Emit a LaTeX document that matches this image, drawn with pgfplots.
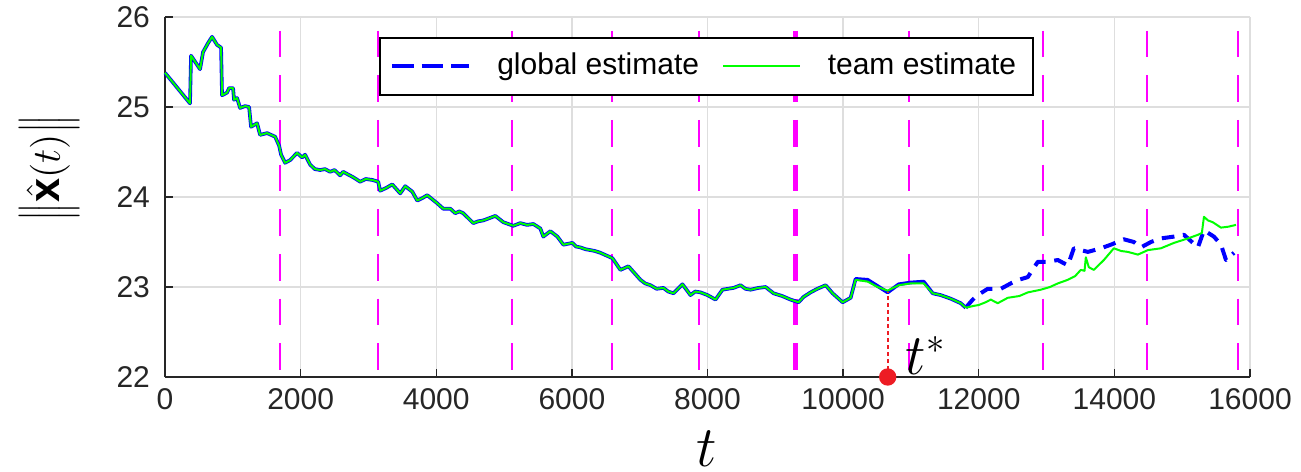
\documentclass[border=0pt]{standalone}
\usepackage{fontspec}
\setmainfont{Liberation Sans}
\usepackage{pgfplots}
\pgfplotsset{compat=1.18}
\usepackage{pgfplotstable}

\definecolor{tickgray}{rgb}{0.15,0.15,0.15}
\definecolor{gridgray}{rgb}{0.87,0.87,0.87}
\definecolor{mag}{rgb}{1,0,1}
\definecolor{mblue}{rgb}{0,0,1}
\definecolor{mgreen}{rgb}{0,1,0}
\definecolor{mred}{rgb}{0.93,0.11,0.14}

\pgfplotstableread{
x y
0 25.38
120 25.27
369 25.04
384 25.57
517 25.42
561 25.61
635 25.71
694 25.78
768 25.69
827 25.66
841 25.13
915 25.16
945 25.21
1004 25.21
1018 25.08
1063 25.10
1107 24.99
1181 25.01
1240 25.00
1269 24.78
1358 24.82
1402 24.69
1506 24.71
1624 24.67
1683 24.57
1712 24.47
1771 24.38
1845 24.41
1948 24.49
2022 24.44
2066 24.47
2140 24.36
2210 24.31
2288 24.30
2360 24.31
2435 24.28
2500 24.30
2583 24.24
2627 24.28
2700 24.25
2775 24.22
2878 24.17
2960 24.20
3055 24.19
3144 24.17
3173 24.07
3260 24.10
3351 24.14
3469 24.04
3542 24.12
3646 24.06
3720 23.96
3800 23.99
3867 24.02
4015 23.93
4103 23.87
4207 23.87
4280 23.82
4340 23.84
4398 23.82
4546 23.71
4620 23.73
4694 23.74
4871 23.79
4989 23.72
5136 23.68
5240 23.71
5340 23.69
5432 23.70
5535 23.65
5579 23.56
5683 23.62
5786 23.56
5875 23.47
6007 23.49
6060 23.45
6125 23.44
6200 23.42
6273 23.41
6340 23.40
6421 23.38
6598 23.32
6716 23.19
6834 23.23
7011 23.08
7080 23.04
7159 23.02
7250 22.98
7350 22.99
7420 22.95
7498 22.93
7631 23.03
7749 22.91
7820 22.95
7897 22.94
8000 22.91
8118 22.86
8221 22.97
8300 22.98
8384 22.99
8487 23.02
8560 22.98
8635 22.97
8750 22.99
8856 23.00
8974 22.93
9100 22.90
9225 22.86
9343 22.83
9417 22.89
9520 22.94
9620 22.98
9742 23.02
9845 22.93
9993 22.83
10111 22.88
10184 23.08
10362 23.06
10509 23.00
10657 22.96
10819 23.02
10996 23.04
11188 23.04
11321 22.93
11439 22.91
11587 22.87
11734 22.82
11808 22.77
}\shared

\pgfplotstableread{
x y
0 25.38
120 25.27
369 25.04
384 25.57
517 25.42
561 25.61
635 25.71
694 25.78
768 25.69
827 25.66
841 25.13
915 25.16
945 25.21
1004 25.21
1018 25.08
1063 25.10
1107 24.99
1181 25.01
1240 25.00
1269 24.78
1358 24.82
1402 24.69
1506 24.71
1624 24.67
1683 24.57
1712 24.47
1771 24.38
1845 24.41
1948 24.49
2022 24.44
2066 24.47
2140 24.36
2210 24.31
2288 24.30
2360 24.31
2435 24.28
2500 24.30
2583 24.24
2627 24.28
2700 24.25
2775 24.22
2878 24.17
2960 24.20
3055 24.19
3144 24.17
3173 24.07
3260 24.10
3351 24.14
3469 24.04
3542 24.12
3646 24.06
3720 23.96
3800 23.99
3867 24.02
4015 23.93
4103 23.87
4207 23.87
4280 23.82
4340 23.84
4398 23.82
4546 23.71
4620 23.73
4694 23.74
4871 23.79
4989 23.72
5136 23.68
5240 23.71
5340 23.69
5432 23.70
5535 23.65
5579 23.56
5683 23.62
5786 23.56
5875 23.47
6007 23.49
6060 23.45
6125 23.44
6200 23.42
6273 23.41
6340 23.40
6421 23.38
6598 23.32
6716 23.19
6834 23.23
7011 23.08
7080 23.04
7159 23.02
7250 22.98
7350 22.99
7420 22.95
7498 22.93
7631 23.03
7749 22.91
7820 22.95
7897 22.94
8000 22.91
8118 22.86
8221 22.97
8300 22.98
8384 22.99
8487 23.02
8560 22.98
8635 22.97
8750 22.99
8856 23.00
8974 22.93
9100 22.90
9225 22.86
9343 22.83
9417 22.89
9520 22.94
9620 22.98
9742 23.02
9845 22.93
9993 22.83
10111 22.88
10184 23.09
10362 23.08
10509 23.01
10657 22.94
10819 23.03
10996 23.05
11188 23.06
11321 22.93
11439 22.91
11587 22.87
11734 22.82
11808 22.77
}\blueearly

\pgfplotstableread{
x y
11808 22.77
11926 22.79
12000 22.80
12100 22.83
12177 22.86
12280 22.82
12428 22.88
12600 22.90
12723 22.94
12915 22.97
13050 23.00
13166 23.04
13314 23.08
13420 23.12
13505 23.19
13560 23.18
13579 23.33
13623 23.22
13697 23.19
13845 23.30
13992 23.43
14100 23.40
14199 23.39
14347 23.36
14494 23.41
14686 23.43
14878 23.49
15085 23.54
15232 23.58
15290 23.60
15321 23.78
15380 23.74
15450 23.72
15572 23.66
15680 23.67
15793 23.69
}\greenlate

\pgfplotstableread{
x y
11808 22.77
11911 22.86
11985 22.91
12133 22.98
12325 22.98
12472 23.04
12590 23.08
12723 23.11
12871 23.28
13018 23.28
13166 23.30
13314 23.24
13402 23.43
13609 23.39
13801 23.43
13948 23.47
14140 23.53
14288 23.50
14391 23.44
14539 23.50
14686 23.54
14878 23.56
15026 23.58
15232 23.44
15321 23.63
15468 23.56
15572 23.47
15646 23.30
15764 23.38
}\bluelate

\begin{document}
\begin{tikzpicture}
\begin{axis}[
  scale only axis,
  width=325.5pt, height=108pt,
  xmin=0, xmax=16000, ymin=22, ymax=26,
  axis x line*=bottom, axis y line*=left,
  xtick={0,2000,...,16000}, ytick={22,23,24,25,26},
  scaled x ticks=false,
  xticklabel style={/pgf/number format/1000 sep={}},
  /pgf/number format/assume math mode=true,
  grid=major,
  major grid style={gridgray, line width=0.4pt},
  tick align=inside, major tick length=2.4pt,
  tick style={tickgray, line width=0.4pt},
  axis line style={tickgray, line width=0.5pt},
  tick label style={font=\fontsize{9}{10}\selectfont, text=tickgray},
  yticklabel style={xshift=-1pt},
  xlabel={$t$},
  xlabel style={at={(axis description cs:0.499,-0.2)}, anchor=center, inner sep=0pt, font=\fontsize{16}{16}\selectfont, text=black},
  ylabel={$\Big\|\hat{\mathbf{x}}(t)\Big\|$},
  ylabel style={at={(axis description cs:-0.106,0.58)}, anchor=center, inner sep=0pt, font=\fontsize{13}{13}\selectfont, text=black},
  clip=false,
  legend columns=2,
  legend style={at={(0.499,0.944)}, anchor=north, draw=black, line width=0.5pt,
    font=\fontsize{9}{10}\selectfont, fill=white,
    inner xsep=3pt, inner ysep=2.5pt,
    /tikz/every odd column/.append style={column sep=6pt},
    /tikz/every even column/.append style={column sep=5pt}},
  legend image code/.code={\draw[#1] (0pt,0pt) -- (23pt,0pt);},
]
% vertical magenta dashed lines
\addplot[mag, line width=0.6pt, dash pattern=on 8pt off 5.4pt, forget plot] coordinates {(1697,25.85) (1697,22)};
\addplot[mag, line width=0.6pt, dash pattern=on 8pt off 5.4pt, forget plot] coordinates {(3144,25.85) (3144,22)};
\addplot[mag, line width=0.6pt, dash pattern=on 8pt off 5.4pt, forget plot] coordinates {(5122,25.85) (5122,22)};
\addplot[mag, line width=0.6pt, dash pattern=on 8pt off 5.4pt, forget plot] coordinates {(6598,25.85) (6598,22)};
\addplot[mag, line width=0.6pt, dash pattern=on 8pt off 5.4pt, forget plot] coordinates {(7868,25.85) (7868,22)};
\addplot[mag, line width=1.7pt, dash pattern=on 8pt off 5.4pt, forget plot] coordinates {(9299,25.85) (9299,22)};
\addplot[mag, line width=0.6pt, dash pattern=on 8pt off 5.4pt, forget plot] coordinates {(10967,25.85) (10967,22)};
\addplot[mag, line width=0.6pt, dash pattern=on 8pt off 5.4pt, forget plot] coordinates {(12945,25.85) (12945,22)};
\addplot[mag, line width=0.6pt, dash pattern=on 8pt off 5.4pt, forget plot] coordinates {(14480,25.85) (14480,22)};
\addplot[mag, line width=0.6pt, dash pattern=on 8pt off 5.4pt, forget plot] coordinates {(15823,25.85) (15823,22)};
% global estimate
\addplot[mblue, line width=1.2pt, dash pattern=on 3.8pt off 2.6pt, line join=round,
  legend image post style={dash pattern=on 6.5pt off 2.4pt}] table[x=x,y=y] {\bluelate};
\addlegendentry{global estimate}
\addplot[mblue, line width=1.1pt, line join=round, forget plot] table[x=x,y=y] {\blueearly};
% team estimate
\addplot[mgreen, line width=0.6pt, line join=round] table[x=x,y=y] {\shared};
\addlegendentry{team estimate}
\addplot[mgreen, line width=0.6pt, line join=round, forget plot] table[x=x,y=y] {\greenlate};
% t* marker
\addplot[mred, line width=0.5pt, dash pattern=on 1.2pt off 0.9pt, forget plot] coordinates {(10657,22) (10657,22.95)};
\addplot[mred, only marks, mark=*, mark size=2.4pt, mark options={fill=mred, draw=mred}, forget plot] coordinates {(10657,22)};
\node[anchor=center, font=\fontsize{16}{16}\selectfont] at (axis cs:11220,22.24) {$t^*$};
\coordinate (SW) at (rel axis cs:0,0);
\coordinate (NE) at (rel axis cs:1,1);
\end{axis}
\pgfresetboundingbox
\path (SW) ++(-49.5pt,-28.5pt) coordinate (BL);
\path (NE) ++(15.3pt,5.1pt) coordinate (TR);
\path[use as bounding box] (BL) rectangle (TR);
\end{tikzpicture}
\end{document}
